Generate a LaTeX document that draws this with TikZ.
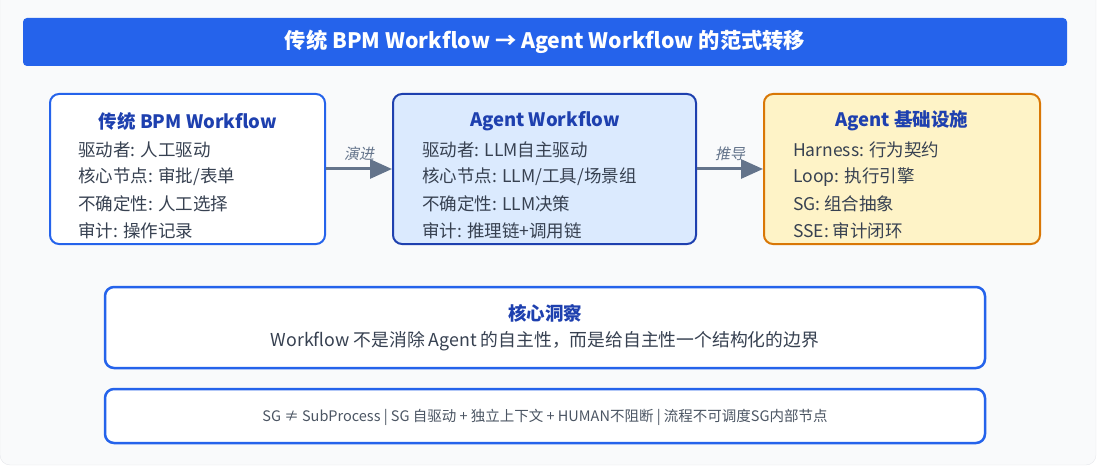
\documentclass[tikz,border=0pt]{standalone}
\usepackage{fontspec}
\setmainfont{Noto Sans CJK SC}
\newfontfamily\slantfont{Noto Sans CJK SC}[FakeSlant=0.2]
\usepackage{xcolor}
\usetikzlibrary{arrows.meta,positioning}

\definecolor{panelgray}{HTML}{F9FAFB}
\definecolor{panelline}{HTML}{E5E7EB}
\definecolor{titleblue}{HTML}{2563EB}
\definecolor{headblue}{HTML}{1E40AF}
\definecolor{agentfill}{HTML}{DBEAFE}
\definecolor{infrafill}{HTML}{FEF3C7}
\definecolor{infraline}{HTML}{D97706}
\definecolor{bodygray}{HTML}{374151}
\definecolor{notegray}{HTML}{4B5563}
\definecolor{arrowgray}{HTML}{64748B}

\tikzset{
  card/.style={draw, line width=2pt, rounded corners=9pt, inner sep=0pt},
  cardtitle/.style={font=\fontsize{18.5}{22}\selectfont\bfseries, text=headblue},
  cardline/.style={font=\fontsize{17.5}{20}\selectfont, text=bodygray, anchor=west, inner sep=0pt},
  flowarrow/.style={line width=3pt, draw=arrowgray, -{Triangle[length=22pt,width=19pt]}},
  arrowlabel/.style={font=\fontsize{15}{17}\selectfont\slantfont, text=arrowgray, inner sep=2pt}
}

\begin{document}
\begin{tikzpicture}[x=1pt,y=-1pt]
  \useasboundingbox (0,0) rectangle (1104,476);
  % background panel
  \fill[panelgray, draw=panelline, rounded corners=10pt] (0,-10) rectangle (1096,465);

  % title bar
  \node[fill=titleblue, rounded corners=4pt, minimum width=1044pt, minimum height=48pt,
        text=white, font=\fontsize{21.3}{25}\selectfont\bfseries] (title) at (545,42)
        {传统 BPM Workflow → Agent Workflow 的范式转移};

  % three stages
  \node[card, fill=white, draw=titleblue, minimum width=275pt, minimum height=150pt] (bpm) at (187.5,169) {};
  \node[card, fill=agentfill, draw=headblue, minimum width=303pt, minimum height=150pt] (agent) at (544.5,169) {};
  \node[card, fill=infrafill, draw=infraline, minimum width=276pt, minimum height=150pt] (infra) at (902,169) {};

  \node[cardtitle] (bpmtitle) at (188,121) {传统 BPM Workflow};
  \node[cardline] (bpm1) at (78,150) {驱动者: 人工驱动};
  \node[cardline] (bpm2) at (78,177) {核心节点: 审批/表单};
  \node[cardline] (bpm3) at (78,204) {不确定性: 人工选择};
  \node[cardline] (bpm4) at (78,231) {审计: 操作记录};

  \node[cardtitle] (agenttitle) at (545,121) {Agent Workflow};
  \node[cardline] (agent1) at (422,150) {驱动者: LLM自主驱动};
  \node[cardline] (agent2) at (422,177) {核心节点: LLM/工具/场景组};
  \node[cardline] (agent3) at (422,204) {不确定性: LLM决策};
  \node[cardline] (agent4) at (422,231) {审计: 推理链+调用链};

  \node[cardtitle] (infratitle) at (902,121) {Agent 基础设施};
  \node[cardline] (infra1) at (793,150) {Harness: 行为契约};
  \node[cardline] (infra2) at (793,177) {Loop: 执行引擎};
  \node[cardline] (infra3) at (793,204) {SG: 组合抽象};
  \node[cardline] (infra4) at (793,231) {SSE: 审计闭环};

  \draw[flowarrow] (bpm.east) -- node[arrowlabel, above=5pt] {演进} (agent.west);
  \draw[flowarrow] (agent.east) -- node[arrowlabel, above=5pt] {推导} (infra.west);

  % insight
  \node[card, fill=white, draw=titleblue, line width=2.5pt, minimum width=880pt, minimum height=81pt] (insight) at (545,327.5) {};
  \node[cardtitle] (insighttitle) at (545,313) {核心洞察};
  \node[font=\fontsize{17.8}{21}\selectfont, text=bodygray] (insightline) at (545,341)
    {Workflow 不是消除 Agent 的自主性，而是给自主性一个结构化的边界};

  % note
  \node[card, fill=white, draw=titleblue, line width=2.5pt, minimum width=880pt, minimum height=54pt] (note) at (545,416) {};
  \node[font=\fontsize{14.5}{17}\selectfont, text=notegray] (noteline) at (545,417)
    {SG ≠ SubProcess | SG 自驱动 + 独立上下文 + HUMAN不阻断 | 流程不可调度SG内部节点};
\end{tikzpicture}
\end{document}
